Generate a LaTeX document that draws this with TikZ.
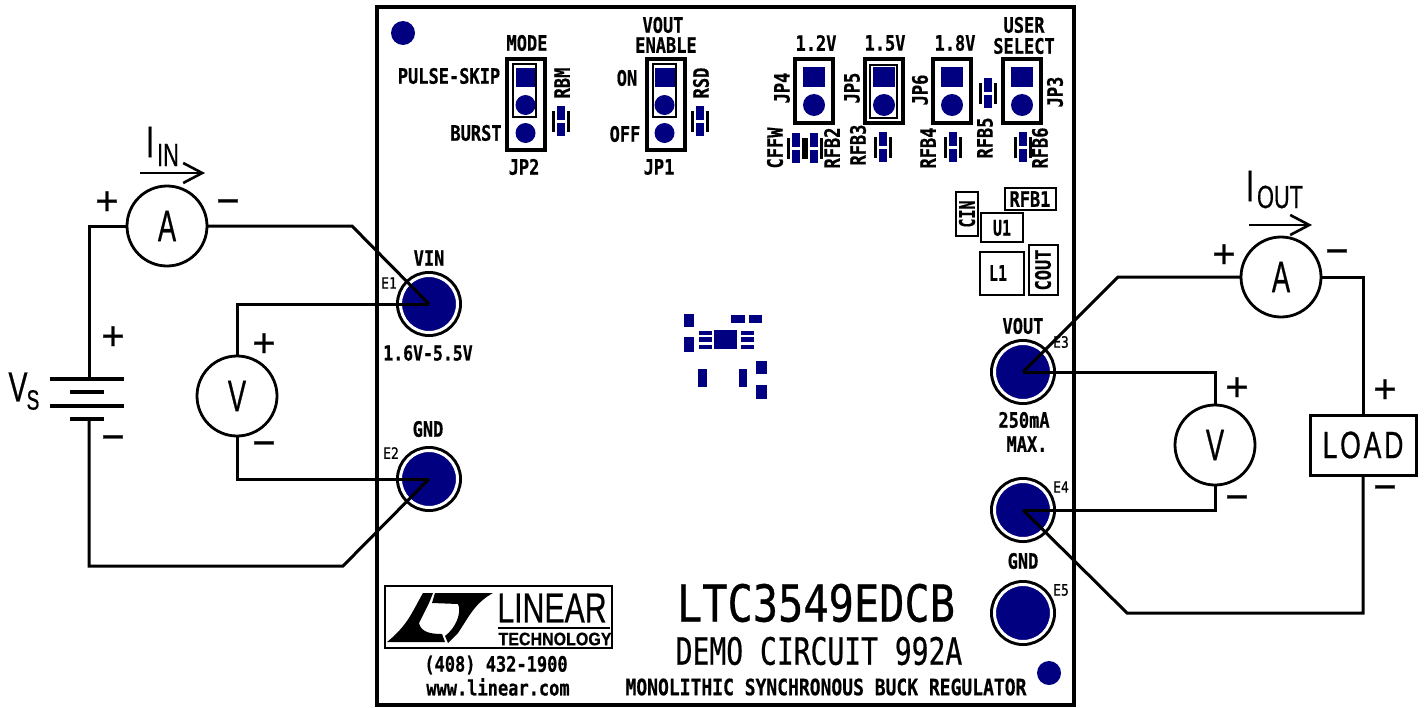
\documentclass[tikz,border=0pt]{standalone}
\usepackage{graphicx}
\usepackage{fontspec}
\setmainfont{Liberation Sans}[FakeBold=0.7]
\setmonofont{DejaVu Sans Mono}[FakeBold=0.7]
\usetikzlibrary{arrows.meta}
\definecolor{padblue}{HTML}{000080}
\newcommand{\narrowtext}[1]{\scalebox{.62}[1]{#1}}
\tikzset{%
  wire/.style = {line width=3pt,line join=miter},
  currentarrow/.style = {-{Straight Barb[length=19pt,width=20pt]},line width=2.6pt},
  meter/.style = {circle,draw,line width=2.8pt,minimum size=80pt,inner sep=0pt,outer sep=0pt,
        font=\fontsize{44}{44}\selectfont},
  terminal/.style = {circle,draw=white,line width=3pt,fill=padblue,minimum size=57pt,
        inner sep=0pt,outer sep=0pt,preaction={draw=black,line width=9pt}},
  sign/.style = {inner sep=0pt,font=\fontsize{40}{40}\selectfont},
  symb/.style = {inner sep=0pt,xscale=.68,transform shape,font=\fontsize{#1}{#1}\selectfont},
  pcb/.style = {inner sep=0pt,yscale=1.25,transform shape,font=\ttfamily\bfseries\fontsize{#1}{#1}\selectfont},
  pcbthin/.style = {inner sep=0pt,yscale=1.2,transform shape,font=\ttfamily\fontsize{#1}{#1}\selectfont},
  outline/.style = {draw=black,line width=3.2pt},
  pad/.style = {fill=padblue}
}
\begin{document}
\begin{tikzpicture}[x=1pt,y=-1pt]
\useasboundingbox (0,0) rectangle (1424,707);
% board
\draw[line width=3.6pt] (377,7) rectangle (1074,705);
\fill[pad] (403,33) circle (12pt);
\fill[pad] (1049,673) circle (12pt);
% jumpers on top edge
\foreach \jx/\sl/\sr in {507/516/535,647/655/675}{
  \draw[outline] (\jx,59) rectangle (\jx+38,150);
  \draw[outline,line width=2.2pt] (\jx+6,64) rectangle (\jx+29,117);
  \fill[pad] (\sl,68) rectangle (\sr,87);
  \fill[pad] (\sl+9.5,105) circle (10pt);
  \fill[pad] (\sl+9.5,133) circle (10pt);
}
\foreach \jx in {795,865,933,1003}{
  \draw[outline] (\jx,59) rectangle (\jx+38,123);
  \fill[pad] (\jx+8,67) rectangle (\jx+30,87);
  \fill[pad] (\jx+19,105) circle (11pt);
}
\draw[outline,line width=2.2pt] (870,65) rectangle (897,118);
% small parts
\foreach \px/\py in {560.5/121,700/121,796/148,814/148,883/147,953/147,1023/147,988/93}{
  \fill[pad] (\px-4,\py-15) rectangle (\px+4,\py+15);
  \fill[white] (\px-4,\py-1.5) rectangle (\px+4,\py+1.5);
  \fill[black] (\px-9,\py-10.5) rectangle (\px-6,\py+10.5);
  \fill[black] (\px+6,\py-10.5) rectangle (\px+9,\py+10.5);
}
% chip footprint
\foreach \ax/\ay/\bx/\by in {684/314/694/327,684/337/694/352,699/331/712/335,699/337/712/342,
    699/345/712/349,714/330/737/349,741/331/754/335,741/337/754/342,741/345/754/349,
    731/315/745/323,749/315/762/323,698/369/707/387,739/369/747/387,756/361/767/374,756/385/767/399}{
  \fill[pad] (\ax,\ay) rectangle (\bx,\by);
}
\draw[outline,line width=2.6pt] (956,192) rectangle (978,236);
\draw[outline,line width=2.6pt] (981,213) rectangle (1023,242);
\draw[outline,line width=2.6pt] (1005,188) rectangle (1056,210);
\draw[outline,line width=2.6pt] (980,252) rectangle (1024,295);
\draw[outline,line width=2.6pt] (1029,245) rectangle (1058,295);
% board labels
\node[pcb=17] (mode) at (527,43) {MODE};
\node[pcb=17] (vouta) at (663,25) {VOUT};
\node[pcb=17] (voutb) at (666,45) {ENABLE};
\node[pcb=17] (pulse) at (449,76) {PULSE-SKIP};
\node[pcb=17] (burst) at (476,133) {BURST};
\node[pcb=17] (jp2) at (524,167) {JP2};
\node[pcb=17] (jp1) at (659,167) {JP1};
\node[pcb=17] (on) at (627,78) {ON};
\node[pcb=17] (off) at (625,134) {OFF};
\node[rotate=90,pcb=17] (rbm) at (562,83) {RBM};
\node[rotate=90,pcb=17] (rsd) at (701,83) {RSD};
\node[pcb=17] (v12) at (816,43) {1.2V};
\node[pcb=17] (v15) at (885,43) {1.5V};
\node[pcb=17] (v18) at (955,43) {1.8V};
\node[pcb=17] (user) at (1024,25) {USER};
\node[pcb=17] (select) at (1024,46) {SELECT};
\node[rotate=90,pcb=17] (jp4) at (782,88) {JP4};
\node[rotate=90,pcb=17] (jp5) at (852,88) {JP5};
\node[rotate=90,pcb=17] (jp6) at (920,90) {JP6};
\node[rotate=90,pcb=17] (jp3) at (1055,92) {JP3};
\node[rotate=90,pcb=17] (cffw) at (775,148) {CFFW};
\node[rotate=90,pcb=17] (rfb2) at (832,148) {RFB2};
\node[rotate=90,pcb=17] (rfb3) at (858,145) {RFB3};
\node[rotate=90,pcb=17] (rfb4) at (928,148) {RFB4};
\node[rotate=90,pcb=17] (rfb5) at (985,138) {RFB5};
\node[rotate=90,pcb=17] (rfb6) at (1040,148) {RFB6};
\node[rotate=90,pcb=15,yscale=1.15] (cin) at (967,214) {CIN};
\node[pcb=15,yscale=1.15] (u1) at (1002,228) {U1};
\node[pcb=17] (rfb1) at (1030,199) {RFB1};
\node[pcb=15,yscale=1.15] (l1) at (998,273) {L1};
\node[rotate=90,pcb=17] (cout) at (1043,270) {COUT};
% terminals
\node[terminal] (vin) at (429,304) {};
\node[terminal] (gndin) at (429,479) {};
\node[terminal] (vout) at (1023,372) {};
\node[terminal] (gndout) at (1023,510) {};
\node[terminal] (gndfree) at (1023,613) {};
\node[pcb=17] (vinl) at (429,258) {VIN};
\node[pcbthin=13] (e1) at (389,283) {E1};
\node[pcb=16.5] (vinr) at (428,353) {1.6V-5.5V};
\node[pcb=17] (gndl) at (428,429) {GND};
\node[pcbthin=13] (e2) at (391,453) {E2};
\node[pcb=17] (voutl) at (1023,326) {VOUT};
\node[pcbthin=13] (e3) at (1061,342) {E3};
\node[pcb=17] (maxa) at (1024,420) {250mA};
\node[pcb=17] (maxb) at (1027,444) {MAX.};
\node[pcbthin=13] (e4) at (1061,487) {E4};
\node[pcb=17] (gndr) at (1023,561) {GND};
\node[pcbthin=13] (e5) at (1061,590) {E5};
% titles
\node[pcbthin=42,yscale=1.01] (part) at (816,603) {LTC3549EDCB};
\node[pcbthin=28,yscale=1.12] (demo) at (819,651) {DEMO CIRCUIT 992A};
\node[pcb=18] (mono) at (826,687) {MONOLITHIC SYNCHRONOUS BUCK REGULATOR};
\node[pcb=17] (phone) at (496,665) {(408) 432-1900};
\node[pcb=17] (web) at (498,687) {www.linear.com};
% logo
\draw[line width=2.2pt] (385,586) rectangle (612,648);
\fill (387,642) .. controls (408,625) and (412,612) .. (423,593) -- (433,593) -- (429,603) -- (419,623)
  .. controls (421,632) and (430,634) .. (442,634) -- (445,642) -- cycle;
\fill (435,593) -- (493,593) .. controls (475,603) and (470,615) .. (458,633) -- (448,643) -- (445,636)
  .. controls (456,628) and (462,612) .. (458,604) -- (432,603) -- cycle;
\node[inner sep=0pt,xscale=.72,transform shape,font=\fontsize{42}{42}\selectfont] (linear) at (552,608) {LINEAR};
\draw[line width=2pt] (498,628) -- (610,628);
\node[inner sep=0pt,xscale=.89,transform shape,font=\bfseries\fontsize{18}{18}\selectfont] (tech) at (555,639) {TECHNOLOGY};
% input side
\node[meter] (amin) at (167,226) {\narrowtext{A}};
\node[meter] (vmin) at (237,396) {\narrowtext{V}};
\coordinate (battop) at (89,379);
\coordinate (batbot) at (89,419);
\coordinate (cellaw) at (50,379);
\coordinate (cellae) at (124,379);
\coordinate (cellbw) at (70,392);
\coordinate (cellbe) at (104,392);
\coordinate (cellcw) at (50,406);
\coordinate (cellce) at (124,406);
\coordinate (celldw) at (70,419);
\coordinate (cellde) at (104,419);
\draw[wire] (amin.west) -- (battop |- amin.west) -- (battop);
\draw[wire] (amin.east) -- (352,226) -- (vin.center);
\draw[wire] (batbot) -- (89,566) -- (343,566) -- (gndin.center);
\draw[wire] (vmin.north) -- (237,304) -- (vin.center);
\draw[wire] (vmin.south) -- (237,479) -- (gndin.center);
\draw[line width=3.4pt] (cellaw) -- (cellae);
\draw[line width=3.4pt] (cellbw) -- (cellbe);
\draw[line width=3.4pt] (cellcw) -- (cellce);
\draw[line width=3.4pt] (celldw) -- (cellde);
\coordinate (iinfrom) at (140,173);
\coordinate (iinto) at (205,173);
\draw[currentarrow] (iinfrom) -- (iinto);
\node[symb=44] (iin) at (150,142) {I};
\node[symb=32] (iinsub) at (168,155) {IN};
\node[symb=42] (vs) at (18,387) {V};
\node[symb=28] (vssub) at (33,400) {S};
\node[sign] (ainp) at (107,203) {+};
\node[sign] (ainm) at (228,207) {−};
\node[sign] (batp) at (113,338) {+};
\node[sign] (batm) at (113,443) {−};
\node[sign] (vinp) at (264,345) {+};
\node[sign] (vinm) at (264,449) {−};
% output side
\node[meter] (amout) at (1281,277) {\narrowtext{A}};
\node[meter] (vmout) at (1215,445) {\narrowtext{V}};
\node[draw,line width=3pt,minimum width=106pt,minimum height=60pt,inner sep=0pt,outer sep=0pt,
  font=\fontsize{38}{38}\selectfont] (load) at (1363,445) {\scalebox{.7}[1]{L\kern4pt O\kern4pt A\kern4pt D}};
\draw[wire] (amout.west) -- (1118,277) -- (vout.center);
\draw[wire] (amout.east) -- (load.north |- amout.east) -- (load.north);
\draw[wire] (load.south) -- (1363,613) -- (1127,613) -- (gndout.center);
\draw[wire] (vmout.north) -- (1215,372) -- (vout.center);
\draw[wire] (vmout.south) -- (1215,510) -- (gndout.center);
\coordinate (ioutfrom) at (1249,225);
\coordinate (ioutto) at (1312,225);
\draw[currentarrow] (ioutfrom) -- (ioutto);
\node[symb=44] (iout) at (1250,186) {I};
\node[symb=32] (ioutsub) at (1280,197) {OUT};
\node[sign] (aoutp) at (1224,256) {+};
\node[sign] (aoutm) at (1337,257) {−};
\node[sign] (voutp) at (1237,389) {+};
\node[sign] (voutm) at (1237,503) {−};
\node[sign] (loadp) at (1385,391) {+};
\node[sign] (loadm) at (1385,493) {−};
\end{tikzpicture}
\end{document}
